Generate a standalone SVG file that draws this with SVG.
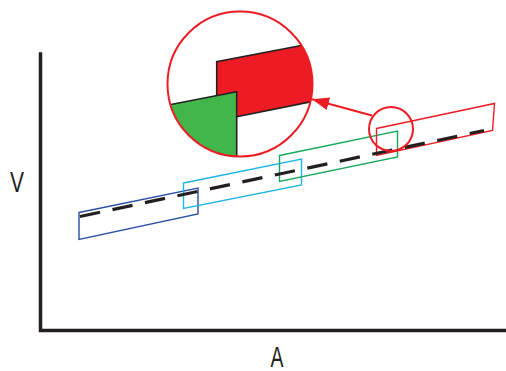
<svg xmlns="http://www.w3.org/2000/svg" width="506" height="371" viewBox="0 0 506 371">
<style>
.axis{fill:none;stroke:#231f20;stroke-width:3.5;stroke-linecap:square}
.box{fill:none;stroke-width:1.4;stroke-linejoin:miter}
.lbl{font-family:"Liberation Sans",Arial,sans-serif;font-size:30px;fill:#231f20}
.edge{fill:none;stroke:#231f20;stroke-width:1.6}
.ring{fill:none;stroke:#ed1c24;stroke-width:2}
</style>
<defs>
<clipPath id="lens"><circle cx="240" cy="84" r="72.5"/></clipPath>
<marker id="ah" markerWidth="18" markerHeight="13" refX="17" refY="6.5" orient="auto" markerUnits="userSpaceOnUse">
<path d="M0,0 L17,6.5 L0,13 Z" fill="#ed1c24"/>
</marker>
</defs>
<g id="axes">
<path class="axis" d="M40.5,54 V330.5 H505"/>
<text class="lbl" x="10" y="192" textLength="14" lengthAdjust="spacingAndGlyphs">V</text>
<text class="lbl" x="270.5" y="366.5" font-size="29" textLength="13" lengthAdjust="spacingAndGlyphs">A</text>
</g>
<g id="box-blue"><polygon class="box" stroke="#2b4fa2" points="79,212.5 198,188 198,214 79,239.5"/></g>
<g id="box-cyan"><polygon class="box" stroke="#1cb5ea" points="183.5,183 301.5,159 301.5,185 183.5,208.5"/></g>
<g id="box-green"><polygon class="box" stroke="#14a85a" points="279.5,155.5 397.5,131 397.5,157 279.5,181.5"/></g>
<g id="box-red"><polygon class="box" stroke="#ed1c24" points="376.5,128.5 494.5,103.5 492.5,130.5 376.5,155.5"/></g>
<g id="trend"><line x1="80" y1="216.5" x2="484" y2="130.5" stroke="#231f20" stroke-width="3.2" stroke-dasharray="20.5 12.7"/></g>
<g id="spot"><circle class="ring" cx="391" cy="129" r="22"/></g>
<g id="zoom">
<g clip-path="url(#lens)">
<polygon fill="#ed1c24" points="216.7,61.7 330,40 330,98 236.7,116.7 216.7,116.7"/>
<polygon fill="#41b649" points="236.7,91.7 160,106.6 160,170 236.7,170"/>
<polyline class="edge" points="216.7,95.6 216.7,61.7 330,40"/>
<line class="edge" x1="236.7" y1="116.7" x2="330" y2="98"/>
<polyline class="edge" points="160,106.6 236.7,91.7 236.7,170"/>
</g>
<circle class="ring" cx="240" cy="84" r="72.5"/>
</g>
<g id="connectors">
<line x1="372" y1="115.5" x2="312" y2="99.3" stroke="#ed1c24" stroke-width="2" marker-end="url(#ah)"/>
</g>
</svg>
